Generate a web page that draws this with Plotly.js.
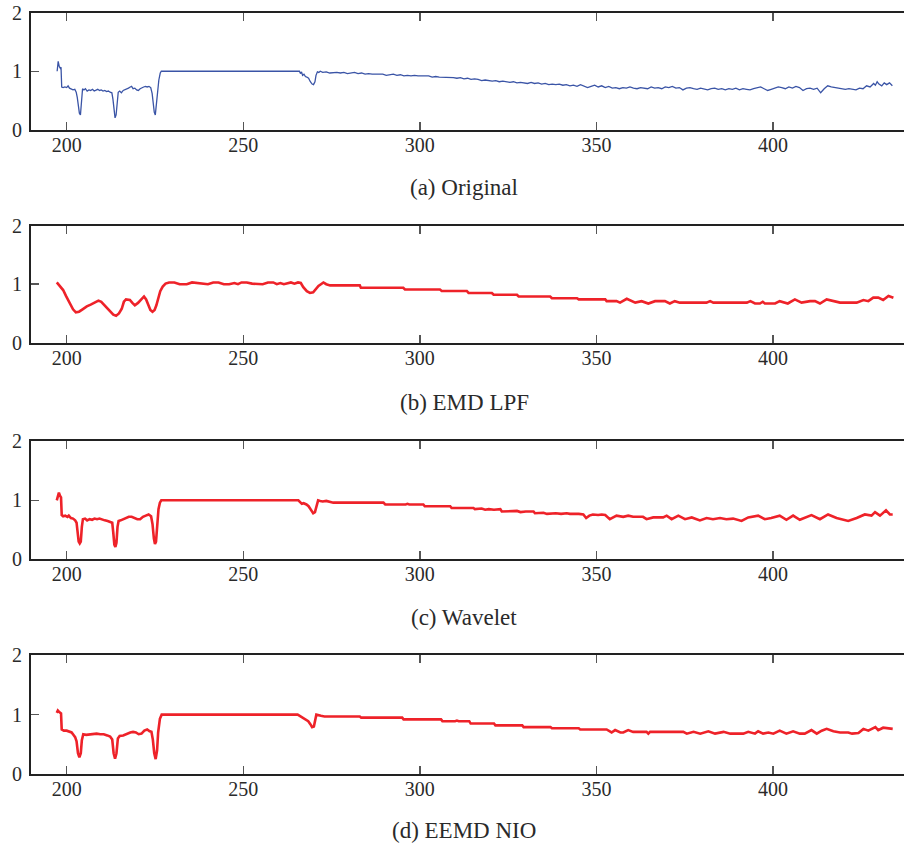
<!DOCTYPE html>
<html>
<head>
<meta charset="utf-8">
<script src="https://cdn.plot.ly/plotly-3.0.1.min.js"></script>
<style>html,body{margin:0;padding:0;background:#fff;}#chart{width:904px;height:843px;}</style>
</head>
<body>
<div id="chart"></div>
<script>
// ---------- data ----------
const captions = ["(a) Original", "(b) EMD LPF", "(c) Wavelet", "(d) EEMD NIO"];
const xTicks = [200, 250, 300, 350, 400];
const yTicks = [0, 1, 2];

// (a) Original
const origX = [197.3,197.6,197.9,198.2,198.4,198.6,199.0,199.5,200.0,200.4,200.8,201.3,201.8,202.3,202.7,203.0,203.3,203.6,203.9,204.2,204.5,204.9,205.3,205.8,206.3,206.8,207.3,207.8,208.3,208.8,209.3,209.8,210.3,210.8,211.3,211.8,212.3,212.8,213.1,213.4,213.7,214.0,214.3,214.6,215.0,215.5,216.0,216.5,217.0,217.5,218.0,218.4,218.8,219.3,219.8,220.3,220.8,221.3,221.8,222.3,222.8,223.3,223.8,224.2,224.5,224.8,225.1,225.4,225.8,226.1,226.5,226.8,265.9,266.2,266.5,266.8,267.2,267.6,268.0,268.5,269.0,269.5,269.9,270.3,270.6,271.0,271.4,271.8,272.5,273.5,274.5,275.5,276.5,277.5,278.5,279.5,280.5,281.5,282.5,283.5,284.5,285.5,286.5,287.5,288.5,289.5,290.5,291.5,292.5,293.5,294.5,295.5,296.5,297.5,298.5,299.5,300.5,301.5,302.5,303.5,304.5,305.5,306.5,307.5,308.5,309.5,310.5,311.5,312.5,313.5,314.5,315.5,316.5,317.5,318.5,319.5,320.5,321.5,322.5,323.5,324.5,325.5,326.5,327.5,328.5,329.5,330.5,331.5,332.5,333.5,334.5,335.5,336.5,337.5,338.5,339.5,340.5,341.5,342.5,343.5,344.5,345.5,346.5,347.5,348.5,349.5,350.5,351.5,352.5,353.5,354.5,355.5,356.5,357.5,358.5,359.5,360.5,361.5,362.5,363.5,364.5,365.5,366.5,367.5,368.5,369.5,370.5,371.5,372.5,373.5,374.5,375.5,376.5,377.5,378.5,379.5,380.5,381.5,382.5,383.5,384.5,385.5,386.5,387.5,388.5,389.5,390.5,391.5,392.5,393.5,394.5,395.5,396.5,397.5,398.5,399.5,400.5,401.5,402.5,403.5,404.5,405.5,406.5,407.5,408.5,409.5,410.5,411.5,412.5,413.5,414.5,415.5,416.5,417.5,418.5,419.5,420.5,421.5,422.5,423.5,424.5,425.5,426.5,427.5,428.5,429.0,429.5,430.0,430.8,431.5,432.2,433.0,433.8];
const origY = [1.00,1.17,1.08,1.05,1.07,0.73,0.72,0.73,0.72,0.75,0.71,0.70,0.68,0.69,0.64,0.55,0.40,0.28,0.25,0.45,0.70,0.68,0.70,0.66,0.68,0.67,0.69,0.66,0.68,0.69,0.67,0.68,0.66,0.67,0.65,0.66,0.64,0.63,0.52,0.30,0.20,0.25,0.50,0.64,0.66,0.63,0.67,0.68,0.70,0.71,0.73,0.74,0.70,0.71,0.68,0.67,0.70,0.72,0.73,0.74,0.73,0.74,0.72,0.62,0.40,0.30,0.25,0.45,0.62,0.85,0.97,1.00,1.00,0.96,0.99,0.93,0.95,0.91,0.90,0.88,0.82,0.78,0.77,0.82,0.93,0.99,0.98,1.00,0.98,0.99,0.97,0.98,0.98,0.97,0.98,0.96,0.97,0.98,0.96,0.97,0.95,0.96,0.95,0.95,0.94,0.95,0.93,0.94,0.95,0.93,0.94,0.92,0.93,0.92,0.93,0.92,0.92,0.91,0.92,0.90,0.91,0.90,0.90,0.89,0.90,0.89,0.88,0.89,0.87,0.88,0.86,0.87,0.86,0.84,0.85,0.84,0.83,0.84,0.82,0.83,0.82,0.81,0.82,0.80,0.81,0.80,0.79,0.81,0.79,0.80,0.78,0.79,0.77,0.78,0.77,0.78,0.76,0.77,0.75,0.76,0.74,0.77,0.75,0.72,0.74,0.76,0.73,0.75,0.72,0.74,0.71,0.72,0.70,0.72,0.71,0.73,0.71,0.70,0.72,0.71,0.70,0.73,0.71,0.72,0.70,0.73,0.72,0.74,0.71,0.72,0.68,0.71,0.72,0.70,0.69,0.71,0.70,0.68,0.70,0.71,0.69,0.70,0.68,0.70,0.69,0.71,0.68,0.70,0.69,0.68,0.70,0.71,0.73,0.70,0.67,0.69,0.71,0.73,0.72,0.70,0.73,0.71,0.74,0.72,0.67,0.70,0.71,0.69,0.71,0.63,0.70,0.75,0.73,0.72,0.71,0.70,0.69,0.70,0.69,0.68,0.71,0.70,0.75,0.73,0.79,0.76,0.82,0.78,0.75,0.80,0.77,0.80,0.75];

// (b) EMD LPF
const emdX = [197.2,198.0,199.0,199.8,200.8,201.8,202.6,203.5,204.5,205.7,206.8,208.0,209.0,209.8,210.6,211.4,212.3,213.2,214.0,214.8,215.6,216.2,216.8,217.9,218.6,219.3,220.2,221.2,221.9,222.5,223.1,223.7,224.3,224.9,225.4,226.0,226.5,227.2,228.0,229.0,230.5,232.0,234.0,235.5,237.0,238.5,240.0,241.5,243.0,244.5,246.0,247.5,248.5,249.5,251.0,252.5,254.0,255.5,257.0,258.5,259.5,260.5,261.5,262.5,263.5,264.5,265.5,266.3,267.0,268.0,268.9,269.8,270.6,271.3,272.0,272.7,273.5,274.6,283.0,283.3,295.3,295.8,305.7,306.2,313.3,313.8,320.4,320.9,327.5,328.0,336.9,337.4,344.5,345.0,352.5,352.9,355.7,356.7,358.6,361.0,362.8,364.7,366.6,369.4,370.8,372.2,373.6,381.2,382.2,383.1,392.6,393.6,394.9,396.3,397.1,397.7,400.6,401.9,404.2,406.2,408.1,410.5,411.9,413.3,415.2,417.1,419.0,423.7,425.6,427.0,428.4,429.8,431.2,432.7,434.1];
const emdY = [1.03,0.98,0.90,0.80,0.68,0.57,0.52,0.53,0.57,0.62,0.65,0.69,0.72,0.70,0.65,0.60,0.53,0.48,0.46,0.50,0.58,0.70,0.74,0.73,0.68,0.64,0.68,0.75,0.79,0.74,0.63,0.56,0.53,0.56,0.64,0.77,0.88,0.96,1.01,1.03,1.03,1.00,1.00,1.03,1.02,1.00,1.00,1.03,1.03,1.00,1.00,1.02,1.00,1.03,1.03,1.01,1.00,1.00,1.03,1.03,1.00,1.02,1.00,1.01,1.03,1.01,1.03,1.02,0.95,0.88,0.85,0.86,0.92,0.97,1.00,1.03,1.00,0.98,0.98,0.94,0.94,0.91,0.91,0.885,0.885,0.85,0.85,0.82,0.82,0.79,0.79,0.76,0.76,0.74,0.74,0.71,0.71,0.685,0.75,0.685,0.71,0.67,0.71,0.71,0.67,0.71,0.685,0.685,0.71,0.685,0.685,0.71,0.67,0.67,0.70,0.67,0.67,0.71,0.67,0.74,0.685,0.71,0.71,0.67,0.74,0.71,0.685,0.685,0.73,0.71,0.77,0.77,0.73,0.80,0.77];

// (c) Wavelet
const wavX = [197.2,197.5,197.8,198.1,198.4,198.6,199.0,199.6,200.2,200.6,201.2,201.8,202.4,202.8,203.1,203.4,203.7,204.0,204.3,204.6,205.2,205.8,206.5,207.2,207.9,208.6,209.3,210.0,210.8,211.6,212.3,212.9,213.2,213.5,213.8,214.1,214.4,214.7,215.3,216.0,216.8,217.6,218.4,219.2,220.0,220.8,221.6,222.4,223.2,223.9,224.3,224.7,225.0,225.3,225.7,226.0,226.4,226.8,265.6,266.1,266.6,267.1,267.9,268.5,269.2,269.8,270.3,270.8,271.2,271.8,272.5,273.5,274.5,275.5,289.7,290.2,296.0,296.5,297.0,301.0,301.4,308.6,309.0,315.2,315.6,317.5,318.5,319.5,321.0,322.8,323.2,326.0,327.5,328.5,330.0,332.2,332.6,335.0,336.0,338.5,340.0,341.6,342.5,345.0,346.3,347.1,348.0,349.0,350.5,351.5,352.5,353.8,355.7,357.6,359.0,360.4,363.2,364.2,366.1,368.9,369.9,371.3,373.2,375.1,377.0,379.3,381.2,383.0,385.0,386.8,388.7,391.1,393.0,395.8,397.7,399.5,401.9,403.8,405.7,407.6,409.0,410.9,413.3,415.6,418.0,421.3,423.7,426.0,427.9,428.9,430.3,432.0,433.1,433.9];
const wavY = [1.00,1.05,1.13,1.08,1.05,0.75,0.73,0.74,0.72,0.74,0.70,0.69,0.66,0.62,0.45,0.30,0.27,0.30,0.55,0.68,0.69,0.66,0.68,0.67,0.69,0.68,0.69,0.67,0.66,0.65,0.64,0.62,0.45,0.25,0.21,0.28,0.55,0.65,0.66,0.68,0.70,0.72,0.72,0.70,0.68,0.68,0.72,0.74,0.76,0.73,0.60,0.35,0.26,0.30,0.55,0.85,0.96,1.00,1.00,0.97,0.94,0.95,0.93,0.90,0.83,0.78,0.80,0.92,1.00,0.99,0.98,0.99,0.97,0.96,0.96,0.93,0.93,0.94,0.93,0.93,0.90,0.90,0.87,0.87,0.85,0.86,0.84,0.85,0.84,0.85,0.81,0.81,0.82,0.80,0.81,0.81,0.78,0.79,0.77,0.78,0.77,0.78,0.77,0.77,0.76,0.70,0.74,0.76,0.75,0.76,0.75,0.68,0.74,0.72,0.74,0.72,0.72,0.68,0.71,0.71,0.74,0.68,0.74,0.68,0.71,0.66,0.70,0.68,0.70,0.68,0.69,0.65,0.71,0.74,0.68,0.70,0.74,0.67,0.74,0.67,0.70,0.75,0.68,0.76,0.70,0.65,0.70,0.76,0.74,0.80,0.74,0.83,0.76,0.76];

// (d) EEMD NIO
const eemdX = [197.2,197.5,197.8,198.1,198.4,198.6,199.2,200.0,200.8,201.4,201.9,202.4,202.8,203.2,203.6,204.0,204.3,204.7,205.5,206.5,207.5,208.5,209.5,210.5,211.5,212.3,212.9,213.3,213.7,214.1,214.5,215.0,216.0,217.0,218.0,218.8,219.6,220.4,221.2,222.0,222.8,223.5,224.0,224.4,224.8,225.2,225.6,225.9,226.4,226.9,265.4,266.0,266.8,267.5,268.4,269.0,269.5,270.0,270.4,270.7,272.0,273.0,283.0,283.4,295.0,295.4,306.0,306.4,310.0,310.5,311.0,314.0,314.4,321.0,321.4,329.0,329.4,337.0,337.4,345.0,345.4,350.9,352.9,354.3,355.3,356.8,357.6,359.0,360.4,364.2,364.7,365.2,374.6,375.6,377.5,379.4,381.7,383.6,386.0,387.9,391.6,393.0,394.9,395.8,397.2,398.7,400.1,401.9,403.8,405.7,407.6,409.0,410.9,412.4,413.8,415.2,417.1,419.0,421.3,422.4,424.2,425.6,427.0,429.0,429.8,431.2,432.7,433.9];
const eemdY = [1.03,1.07,1.05,1.03,1.02,0.75,0.73,0.73,0.72,0.70,0.66,0.62,0.55,0.35,0.28,0.35,0.57,0.67,0.66,0.67,0.68,0.68,0.67,0.67,0.65,0.63,0.58,0.35,0.26,0.35,0.60,0.64,0.65,0.68,0.70,0.71,0.70,0.67,0.68,0.73,0.75,0.72,0.71,0.58,0.35,0.25,0.40,0.70,0.93,1.00,1.00,0.98,0.95,0.93,0.89,0.84,0.79,0.80,0.92,1.00,0.98,0.97,0.97,0.95,0.95,0.92,0.92,0.89,0.89,0.90,0.89,0.89,0.85,0.85,0.82,0.82,0.79,0.79,0.77,0.77,0.75,0.75,0.75,0.70,0.74,0.70,0.70,0.74,0.71,0.71,0.68,0.71,0.71,0.68,0.71,0.68,0.72,0.68,0.71,0.68,0.68,0.71,0.68,0.72,0.68,0.70,0.68,0.73,0.68,0.72,0.68,0.68,0.74,0.68,0.73,0.76,0.72,0.70,0.70,0.68,0.69,0.76,0.73,0.79,0.74,0.78,0.77,0.76];

// ---------- chart ----------
const W = 904, H = 843;
const panels = [
  {x: origX, y: origY, color: '#3a54a6', width: 1.3, top: 13, bottom: 129.5, cap: 187},
  {x: emdX, y: emdY, color: '#ee2229', width: 2.6, top: 225.7, bottom: 342.7, cap: 402.5},
  {x: wavX, y: wavY, color: '#ee2229', width: 2.6, top: 441.3, bottom: 559.3, cap: 617},
  {x: eemdX, y: eemdY, color: '#ee2229', width: 2.6, top: 655.3, bottom: 774, cap: 830}
];
const font = {family: '"Liberation Serif", "Times New Roman", serif', size: 20, color: '#2a2a2a'};
const data = [];
const layout = {
  width: W, height: H,
  margin: {l: 31, r: 0, t: 0, b: 0},
  paper_bgcolor: '#fff', plot_bgcolor: '#fff',
  showlegend: false,
  font: font,
  annotations: []
};
panels.forEach((p, i) => {
  const s = i === 0 ? '' : String(i + 1);
  data.push({
    type: 'scatter', mode: 'lines', x: p.x, y: p.y,
    xaxis: 'x' + s, yaxis: 'y' + s,
    line: {color: p.color, width: p.width},
    hoverinfo: 'skip'
  });
  layout['xaxis' + s] = {
    domain: [0, 1], anchor: 'y' + s, range: [189.9, 437.1],
    tickvals: xTicks, ticktext: xTicks.map(String),
    ticks: 'inside', ticklen: 8, tickwidth: 1.5, tickcolor: '#555',
    showline: true, linewidth: 2, linecolor: '#222', mirror: 'ticks',
    showgrid: false, zeroline: false, tickfont: font, ticklabelstandoff: -4
  };
  layout['yaxis' + s] = {
    domain: [1 - p.bottom / H, 1 - p.top / H], anchor: 'x' + s, range: [0, 2],
    tickvals: yTicks, ticktext: yTicks.map(String),
    ticks: 'inside', ticklen: 8, tickwidth: 1.5, tickcolor: '#555',
    showline: true, linewidth: 2, linecolor: '#222', mirror: false,
    showgrid: false, zeroline: false, tickfont: font, ticklabelstandoff: 3
  };
  layout.annotations.push({
    xref: 'paper', yref: 'paper', x: (464 - 31) / (W - 31), y: 1 - p.cap / H,
    xanchor: 'center', yanchor: 'middle', showarrow: false, borderpad: 0,
    text: captions[i], font: {family: font.family, size: 23, color: '#2a2a2a'}
  });
});
Plotly.newPlot('chart', data, layout, {staticPlot: true, displayModeBar: false});
</script>
</body>
</html>
